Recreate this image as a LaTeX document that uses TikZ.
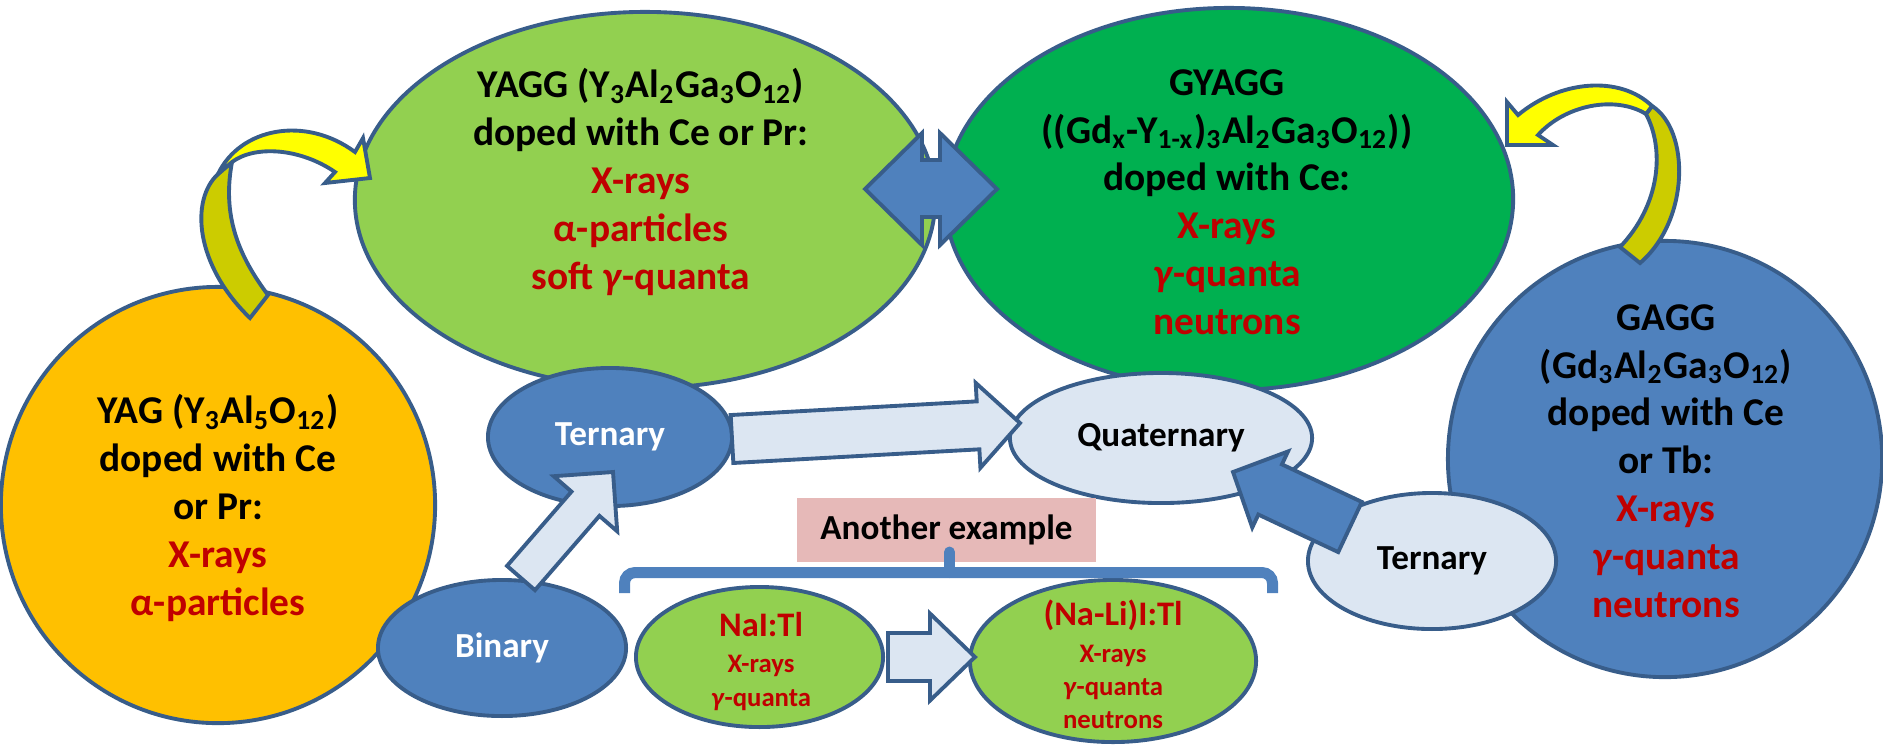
\documentclass[tikz,border=0pt]{standalone}
\usepackage{fontspec}
\setmainfont{Carlito}
\usetikzlibrary{shapes.geometric,calc}
\definecolor{edge}{HTML}{385D8A}
\definecolor{yagc}{HTML}{FFC000}
\definecolor{yaggc}{HTML}{92D050}
\definecolor{gyaggc}{HTML}{00B050}
\definecolor{bluec}{HTML}{4F81BD}
\definecolor{lightc}{HTML}{DCE6F2}
\definecolor{redc}{HTML}{C00000}
\definecolor{pinkc}{HTML}{E6B9B8}
\definecolor{yel}{HTML}{FFFF00}
\definecolor{dyel}{HTML}{CCCC00}
\newcommand\rd[1]{\textcolor{redc}{#1}}
\newcommand\gam{\textit{γ}}
\newcommand\sbs[1]{\textsubscript{#1}}
% #1 style, #2 from, #3 to, #4 half shaft, #5 half head, #6 head length
\newcommand\blockarrow[6]{%
  \coordinate (ba-h) at ($(#3)!#6!(#2)$);
  \draw[#1] ($(#2)!#4!90:(#3)$) -- ($(ba-h)!#4!-90:(#2)$) -- ($(ba-h)!#5!-90:(#2)$)
    -- (#3) -- ($(ba-h)!#5!90:(#2)$) -- ($(ba-h)!#4!90:(#2)$) -- ($(#2)!#4!-90:(#3)$) -- cycle;
}
\begin{document}
\begin{tikzpicture}[x=0.01cm,y=-0.01cm,
  shapeb/.style={draw=edge,line width=1.1pt,line join=miter},
  oval/.style={shapeb,ellipse,inner sep=0pt},
  big/.style={font=\fontsize{11.2}{13.6}\selectfont\bfseries,align=center,inner sep=0pt},
  lab/.style={font=\fontsize{10}{12}\selectfont\bfseries},
  small/.style={font=\fontsize{7.6}{9.4}\selectfont\bfseries,align=center,inner sep=0pt,text=redc},
  lightarrow/.style={shapeb,fill=lightc},
  bluearrow/.style={shapeb,fill=bluec}
]
\useasboundingbox (0,0) rectangle (1883,744);

% big shapes
\node[oval,fill=yagc,minimum width=4.34cm,minimum height=4.36cm] (yag) at (218,505) {};
\node[oval,fill=yaggc,minimum width=5.80cm,minimum height=3.76cm] (yagg) at (645,200) {};
\node[oval,fill=gyaggc,minimum width=5.68cm,minimum height=3.82cm] (gyagg) at (1229,199) {};
\node[oval,fill=bluec,minimum width=4.34cm,minimum height=4.36cm] (gagg) at (1665,459) {};

% texts in big shapes
\node[big] (yagtext) at (218,508) {YAG (Y\sbs{3}Al\sbs{5}O\sbs{12})\\ doped with Ce\\ or Pr:\\ \rd{X-rays}\\ \rd{α-particles}};
\node[big] (yaggtext) at (641,182) {YAGG (Y\sbs{3}Al\sbs{2}Ga\sbs{3}O\sbs{12})\\ doped with Ce or Pr:\\ \rd{X-rays}\\ \rd{α-particles}\\ \rd{soft \gam-quanta}};
\node[big] (gyaggtext) at (1227,202) {GYAGG\\ ((Gd\sbs{x}-Y\sbs{1-x})\sbs{3}Al\sbs{2}Ga\sbs{3}O\sbs{12}))\\ doped with Ce:\\ \rd{X-rays}\\ \rd{\gam-quanta}\\ \rd{neutrons}};
\node[big] (gaggtext) at (1666,461) {GAGG\\ (Gd\sbs{3}Al\sbs{2}Ga\sbs{3}O\sbs{12})\\ doped with Ce\\ or Tb:\\ \rd{X-rays}\\ \rd{\gam-quanta}\\ \rd{neutrons}};

% small ellipses
\node[oval,fill=bluec,minimum width=2.44cm,minimum height=1.38cm,lab,text=white] (tern1) at (610,437) {Ternary};
\node[oval,fill=lightc,minimum width=3.02cm,minimum height=1.30cm,lab] (quat) at (1161,438) {Quaternary};
\node[oval,fill=lightc,minimum width=2.48cm,minimum height=1.36cm,lab] (tern2) at (1432,561) {Ternary};
\node[oval,fill=bluec,minimum width=2.48cm,minimum height=1.36cm,lab,text=white] (binary) at (502,648) {Binary};
\node[oval,fill=yaggc,minimum width=2.47cm,minimum height=1.40cm] (nai) at (759.5,657) {};
\node[oval,fill=yaggc,minimum width=2.86cm,minimum height=1.62cm] (nali) at (1113,661) {};
\node[small] (naitext) at (761,661) {{\fontsize{9.8}{11}\selectfont NaI:Tl}\\[1.1pt] X-rays\\ \gam-quanta};
\node[small] (nalitext) at (1113,664) {{\fontsize{9.8}{11}\selectfont (Na-Li)I:Tl}\\[1.1pt] X-rays\\ \gam-quanta\\ neutrons};

% pink label and bracket
\node[fill=pinkc,minimum width=2.99cm,minimum height=0.64cm,inner sep=0pt,lab] (another) at (946.5,530) {Another example};
\coordinate (brL) at (624.5,593);
\coordinate (brR) at (1272.5,593);
\coordinate (brM) at (949.5,572.5);
\coordinate (brT) at (949.5,552);
\draw[bluec,line width=0.11cm,rounded corners=3] (brL) -- (624.5,572.5) -- (1272.5,572.5) -- (brR);
\draw[bluec,line width=0.11cm,line cap=round] (brM) -- (brT);

% double arrow between YAGG and GYAGG
\draw[bluearrow] (865,189) -- (922,133) -- (922,160) -- (940,160) -- (940,133) -- (997,189)
  -- (940,245) -- (940,217) -- (922,217) -- (922,245) -- cycle;

% curved yellow arrows
\draw[shapeb,fill=dyel] (250,318) -- (268,295) .. controls (238,255) and (222,215) .. (232,162)
  -- (218,174) .. controls (190,200) and (195,265) .. (250,318) -- cycle;
\draw[shapeb,fill=yel] (218,174) .. controls (240,128) and (305,115) .. (355,152) -- (363,138)
  -- (370,178) -- (325,183) -- (335,172) .. controls (300,148) and (255,145) .. (232,162) -- cycle;
\draw[shapeb,fill=dyel] (1640,263) -- (1620,247) .. controls (1660,205) and (1665,150) .. (1646,114)
  -- (1652,106) .. controls (1690,130) and (1690,220) .. (1640,263) -- cycle;
\draw[shapeb,fill=yel] (1518,115) .. controls (1560,80) and (1620,75) .. (1652,106) -- (1646,114)
  .. controls (1615,95) and (1565,105) .. (1538,135) -- (1553,145) -- (1507,145) -- (1507,102) -- cycle;

% block arrows
\coordinate (bt-s) at (521,578);
\coordinate (bt-e) at (613,472);
\blockarrow{lightarrow}{bt-s}{bt-e}{0.185cm}{0.42cm}{0.42cm}
\coordinate (tq-s) at (732,439);
\coordinate (tq-e) at (1020,423);
\blockarrow{lightarrow}{tq-s}{tq-e}{0.24cm}{0.425cm}{0.42cm}
\coordinate (rq-s) at (1350,527);
\coordinate (rq-e) at (1233,472);
\blockarrow{bluearrow}{rq-s}{rq-e}{0.277cm}{0.42cm}{0.41cm}
\coordinate (nn-s) at (888,657);
\coordinate (nn-e) at (975,657);
\blockarrow{lightarrow}{nn-s}{nn-e}{0.24cm}{0.435cm}{0.45cm}
\end{tikzpicture}
\end{document}
